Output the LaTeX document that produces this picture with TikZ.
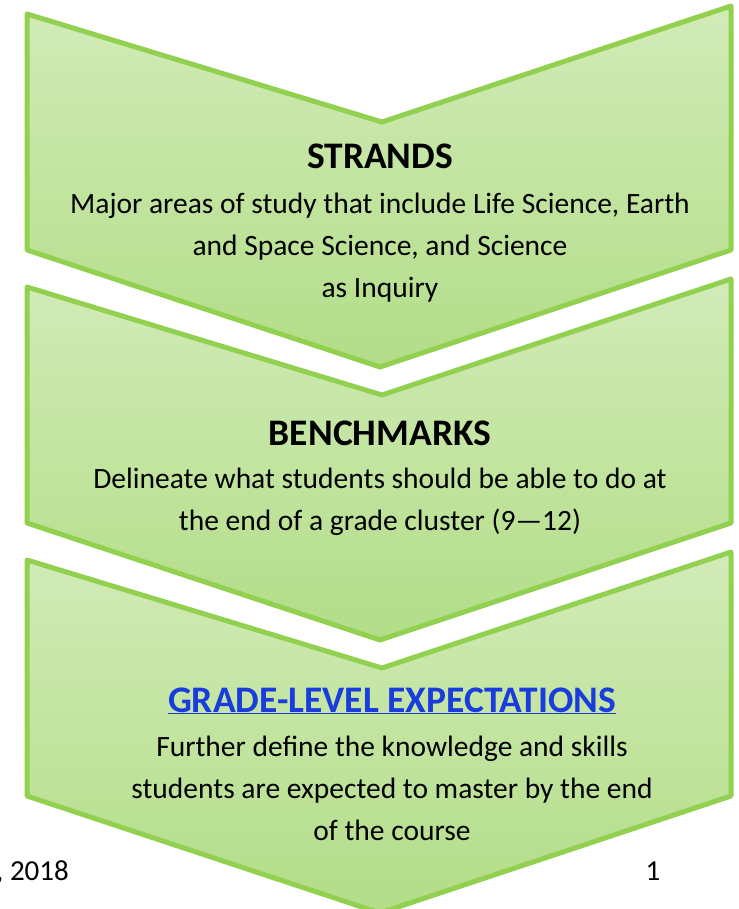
\documentclass[tikz,border=0pt]{standalone}
\usepackage{fontspec}
\setmainfont{Carlito}
\definecolor{chevline}{RGB}{146,208,80}
\definecolor{chevtop}{RGB}{210,235,184}
\definecolor{chevbot}{RGB}{178,221,136}
\definecolor{linkblue}{RGB}{25,60,220}

\begin{document}
\begin{tikzpicture}[x=1pt,y=-1pt,
  chevron/.style={draw=chevline,line width=5pt,line join=round,top color=chevtop,bottom color=chevbot},
  heading/.style={font=\fontsize{37.5}{42}\selectfont\bfseries,inner sep=0pt,anchor=base},
  blurb/.style={font=\fontsize{29.5}{42}\selectfont,align=center,inner sep=0pt,anchor=base},
  footer/.style={font=\fontsize{29}{34}\selectfont,inner sep=0pt,anchor=base}]
  \useasboundingbox (0,0) rectangle (738,909);

  \foreach \t in {14,287,560}
    \path[chevron] (27,\t) -- (382,\t+108) -- (731,\t-8) -- (731,\t+236)
      -- (380,\t+353) -- (27,\t+236) -- cycle;

  \node[heading] (strands) at (380,169) {STRANDS};
  \node[blurb] (strandsinfo) at (380,297)
    {Major areas of study that include Life Science, Earth\\and Space Science, and Science\\as Inquiry};

  \node[heading] (bench) at (380,445) {BENCHMARKS};
  \node[blurb] (benchinfo) at (380,530)
    {Delineate what students should be able to do at\\the end of a grade cluster (9—12)};

  \node[heading,text=linkblue] (gle) at (392,712) {\underline{GRADE-LEVEL EXPECTATIONS}};
  \node[blurb] (gleinfo) at (392,840)
    {Further define the knowledge and skills\\students are expected to master by the end\\of the course};

  \node[footer,anchor=base west] (date) at (-4,880) {, 2018};
  \node[footer] (page) at (653,880) {1};
\end{tikzpicture}
\end{document}
